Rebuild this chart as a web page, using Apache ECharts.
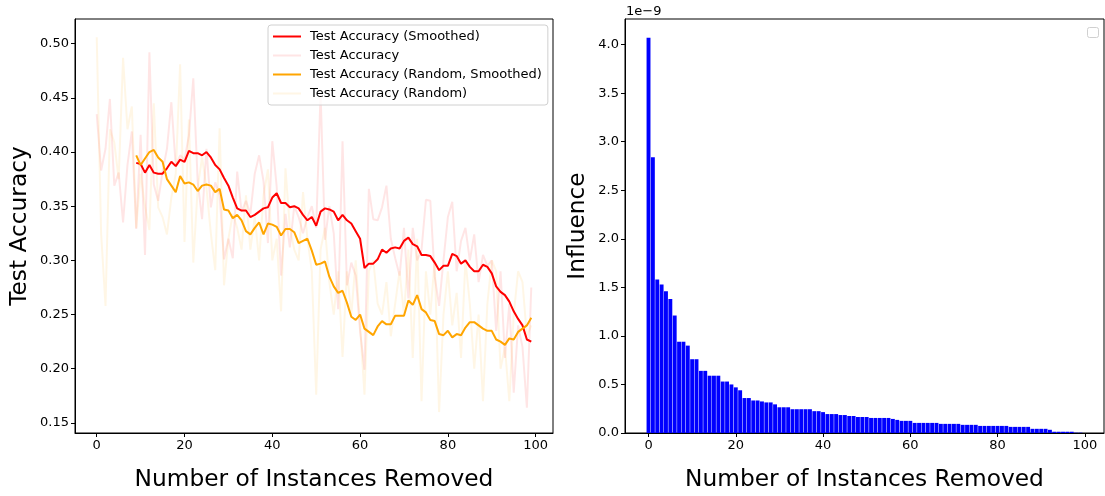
<!DOCTYPE html>
<html><head><meta charset="utf-8">
<script src="https://cdn.jsdelivr.net/npm/echarts@6/dist/echarts.min.js"></script>
<style>html,body{margin:0;padding:0;background:#fff}#c{width:1105px;height:496px}</style>
</head><body><div id="c"></div>
<script>
// ---------- data ----------
const xTicks = [0, 20, 40, 60, 80, 100];
const accTicks = [0.15, 0.20, 0.25, 0.30, 0.35, 0.40, 0.45, 0.50];
const inflTicks = [0, 0.5, 1.0, 1.5, 2.0, 2.5, 3.0, 3.5, 4.0];
const smoothStart = 9;

const accRaw = [0.435,0.383,0.403,0.449,0.369,0.381,0.335,0.388,0.419,0.329,
0.416,0.305,0.492,0.370,0.355,0.382,0.403,0.446,0.387,0.397,
0.393,0.415,0.468,0.373,0.338,0.403,0.349,0.372,0.360,0.301,
0.320,0.302,0.382,0.345,0.355,0.343,0.380,0.397,0.373,0.316,
0.410,0.368,0.286,0.343,0.312,0.350,0.340,0.325,0.340,0.350,
0.330,0.455,0.319,0.350,0.325,0.255,0.410,0.277,0.298,0.286,
0.235,0.199,0.366,0.338,0.337,0.349,0.369,0.320,0.302,0.286,
0.330,0.265,0.330,0.300,0.310,0.356,0.355,0.285,0.258,0.300,
0.340,0.354,0.290,0.318,0.330,0.300,0.324,0.280,0.305,0.295,
0.300,0.235,0.290,0.210,0.260,0.178,0.240,0.220,0.164,0.275];

const accSmooth = [0.390,0.389,0.381,0.388,0.381,0.380,0.380,0.385,0.391,0.387,
0.393,0.391,0.401,0.399,0.399,0.397,0.400,0.395,0.388,0.384,
0.376,0.369,0.358,0.348,0.346,0.346,0.340,0.342,0.345,0.348,
0.349,0.358,0.362,0.353,0.353,0.349,0.350,0.348,0.342,0.337,
0.340,0.332,0.345,0.348,0.347,0.345,0.337,0.342,0.337,0.334,
0.327,0.320,0.293,0.297,0.297,0.301,0.310,0.307,0.311,0.312,
0.311,0.318,0.321,0.315,0.313,0.305,0.305,0.304,0.298,0.291,
0.295,0.295,0.306,0.304,0.297,0.300,0.294,0.290,0.290,0.296,
0.294,0.288,0.276,0.271,0.268,0.262,0.253,0.246,0.240,0.227,0.225];

const randRaw = [0.506,0.325,0.258,0.421,0.409,0.375,0.487,0.421,0.442,0.330,
0.380,0.350,0.328,0.445,0.349,0.340,0.324,0.358,0.380,0.481,
0.317,0.430,0.298,0.367,0.395,0.367,0.325,0.291,0.422,0.277,
0.320,0.343,0.330,0.310,0.360,0.310,0.340,0.300,0.360,0.384,
0.300,0.320,0.253,0.385,0.330,0.310,0.300,0.363,0.320,0.290,
0.176,0.310,0.330,0.280,0.250,0.290,0.211,0.290,0.250,0.300,
0.240,0.176,0.290,0.300,0.260,0.250,0.280,0.230,0.260,0.290,
0.250,0.310,0.210,0.320,0.170,0.290,0.250,0.300,0.160,0.250,
0.290,0.240,0.270,0.210,0.300,0.260,0.200,0.250,0.170,0.260,
0.300,0.290,0.200,0.220,0.170,0.250,0.290,0.280,0.230,0.240];

const randSmooth = [0.397,0.388,0.394,0.400,0.402,0.395,0.391,0.375,0.369,0.363,
0.378,0.371,0.372,0.370,0.364,0.369,0.370,0.369,0.363,0.366,
0.347,0.346,0.339,0.342,0.337,0.327,0.324,0.330,0.335,0.324,
0.334,0.333,0.331,0.323,0.329,0.329,0.326,0.316,0.318,0.320,
0.309,0.296,0.297,0.299,0.285,0.276,0.270,0.272,0.261,0.248,
0.245,0.250,0.237,0.234,0.231,0.239,0.244,0.241,0.241,0.249,
0.249,0.249,0.263,0.259,0.268,0.255,0.252,0.245,0.244,0.232,
0.231,0.235,0.229,0.232,0.231,0.238,0.243,0.243,0.240,0.237,
0.235,0.235,0.227,0.225,0.222,0.228,0.227,0.234,0.237,0.240,0.247];

// influence values in units of 1e-9
const influence = [4.07,2.84,1.58,1.53,1.46,1.38,1.21,0.94,0.94,0.90,
0.76,0.76,0.64,0.64,0.59,0.59,0.59,0.53,0.53,0.50,
0.47,0.44,0.36,0.36,0.335,0.335,0.325,0.315,0.315,0.295,
0.265,0.265,0.265,0.245,0.245,0.245,0.245,0.245,0.225,0.225,
0.215,0.195,0.195,0.195,0.185,0.185,0.175,0.175,0.165,0.165,
0.165,0.155,0.155,0.155,0.155,0.155,0.145,0.135,0.125,0.125,
0.125,0.104,0.104,0.104,0.104,0.104,0.104,0.094,0.094,0.094,
0.094,0.094,0.084,0.084,0.084,0.084,0.073,0.073,0.073,0.073,
0.073,0.073,0.073,0.063,0.063,0.063,0.063,0.063,0.043,0.043,
0.043,0.043,0.033,0.013,0.013,0.013,0.013,0.013,0.003,0.003];

const names = ['Test Accuracy (Smoothed)','Test Accuracy','Test Accuracy (Random, Smoothed)','Test Accuracy (Random)'];

// ---------- build ----------
const F = 'DejaVu Sans';
const pairs = (arr, off) => arr.map((v, k) => [k + off, v]);

function axisBase(ticks, fmt) {
  return {
    axisLine: {show: true, onZero: false, lineStyle: {color: '#000', width: 1}},
    axisTick: {show: true, inside: false, length: 4, lineStyle: {color: '#000', width: 1}, customValues: ticks},
    axisLabel: {color: '#000', fontSize: 13, fontFamily: F, margin: 6, customValues: ticks, formatter: fmt},
    splitLine: {show: false},
    nameTextStyle: {color: '#000', fontSize: 23.3, fontFamily: F},
    nameLocation: 'middle'
  };
}

const chart = echarts.init(document.getElementById('c'), null, {renderer: 'canvas'});
chart.setOption({
  animation: false,
  backgroundColor: '#fff',
  grid: [
    {left: 75, right: 552, top: 19, bottom: 53, show: true, borderColor: '#000', borderWidth: 1, backgroundColor: 'transparent'},
    {left: 625, right: 1, top: 19, bottom: 53, show: true, borderColor: '#000', borderWidth: 1, backgroundColor: 'transparent'}
  ],
  xAxis: [
    Object.assign(axisBase(xTicks, v => String(v)), {type: 'value', gridIndex: 0, min: -4.95, max: 103.95,
      name: 'Number of Instances Removed', nameGap: 35}),
    Object.assign(axisBase(xTicks, v => String(v)), {type: 'value', gridIndex: 1, min: -5.39, max: 104.39,
      name: 'Number of Instances Removed', nameGap: 35})
  ],
  yAxis: [
    Object.assign(axisBase(accTicks, v => v.toFixed(2)), {type: 'value', gridIndex: 0, min: 0.1407, max: 0.5228,
      name: 'Test Accuracy', nameGap: 44}),
    Object.assign(axisBase(inflTicks, v => v.toFixed(1)), {type: 'value', gridIndex: 1, min: 0, max: 4.264,
      name: 'Influence', nameGap: 36})
  ],
  legend: {
    left: 268, top: 25, orient: 'vertical',
    data: names,
    icon: 'rect',
    itemWidth: 28, itemHeight: 2, itemGap: 4,
    padding: [4, 6, 4, 5],
    backgroundColor: 'rgba(255,255,255,0.8)',
    borderColor: '#d0d0d0', borderWidth: 1, borderRadius: 3,
    textStyle: {color: '#000', fontSize: 13, fontFamily: F, lineHeight: 15, padding: [0, 0, 0, 4]}
  },
  graphic: [
    {type: 'text', left: 626, top: 5, style: {text: '1e\u22129', fill: '#000', font: '13px "DejaVu Sans"'}},
    {type: 'rect', left: 1087, top: 27, shape: {width: 11, height: 10, r: 2},
      style: {fill: '#fff', stroke: '#d0d0d0', lineWidth: 1}}
  ],
  series: [
    {name: names[0], type: 'line', xAxisIndex: 0, yAxisIndex: 0, data: pairs(accSmooth, smoothStart),
      symbol: 'none', lineStyle: {color: '#ff0000', width: 2}, itemStyle: {color: '#ff0000'}, z: 3},
    {name: names[1], type: 'line', xAxisIndex: 0, yAxisIndex: 0, data: pairs(accRaw, 0),
      symbol: 'none', lineStyle: {color: 'rgba(255,0,0,0.1)', width: 2}, itemStyle: {color: 'rgba(255,0,0,0.1)'}, z: 2},
    {name: names[2], type: 'line', xAxisIndex: 0, yAxisIndex: 0, data: pairs(randSmooth, smoothStart),
      symbol: 'none', lineStyle: {color: '#ffa500', width: 2}, itemStyle: {color: '#ffa500'}, z: 3},
    {name: names[3], type: 'line', xAxisIndex: 0, yAxisIndex: 0, data: pairs(randRaw, 0),
      symbol: 'none', lineStyle: {color: 'rgba(255,165,0,0.1)', width: 2}, itemStyle: {color: 'rgba(255,165,0,0.1)'}, z: 2},
    {name: 'Influence', type: 'bar', xAxisIndex: 1, yAxisIndex: 1, data: pairs(influence, 0),
      barWidth: 3.9, itemStyle: {color: '#0000ff'}, legendHoverLink: false}
  ]
});
</script></body></html>
